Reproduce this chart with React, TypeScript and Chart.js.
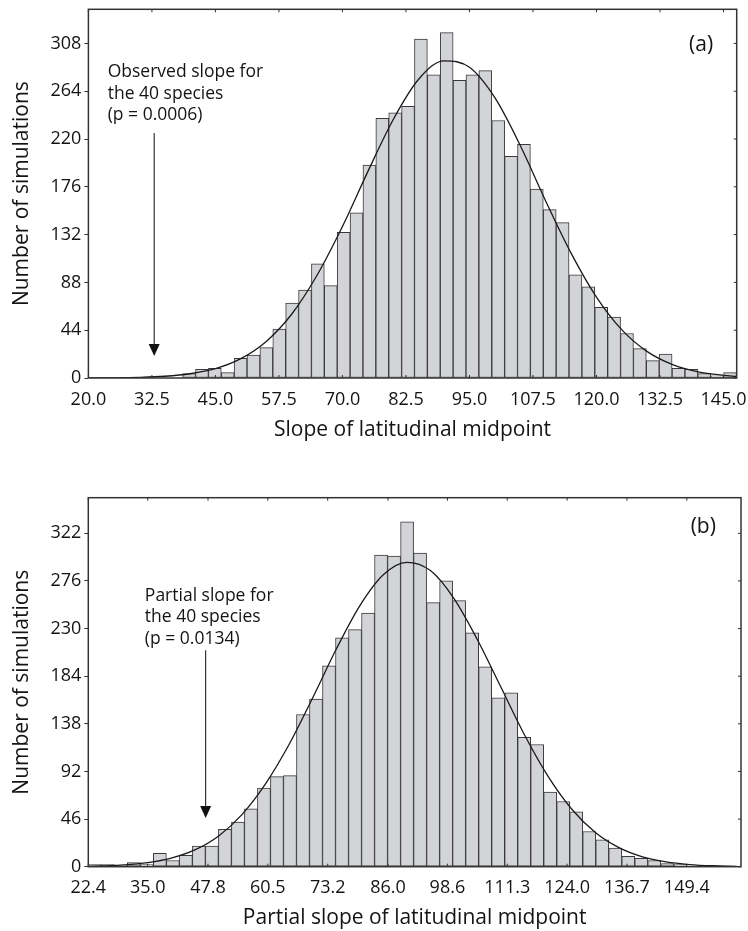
import React, { useEffect, useRef } from "react";
import { Chart, registerables } from "chart.js";

Chart.register(...registerables);

// ---------- Panel (a) data ----------
const binStartA = 38.55;
const binWidthA = 2.535;
const countsA = [4, 8, 9, 5, 18, 21, 28, 45, 69, 81, 105, 85, 134, 152, 196, 239, 244, 250, 312, 279, 318, 274, 279, 283, 237, 204, 215, 174, 155, 143, 95, 84, 65, 56, 41, 27, 16, 22, 9, 8, 4, 2, 5];
const curveXA = [20, 25, 30, 35, 40, 45, 50, 55, 60, 65, 70, 75, 80, 85, 90, 95, 100, 105, 110, 115, 120, 125, 130, 135, 140, 145, 147.6];
const curveYA = [0.1, 0.2, 0.6, 1.6, 3.9, 8.6, 17.8, 33.7, 58.7, 94.6, 139.5, 190, 238, 275, 292, 286, 258, 214, 163, 115, 74.5, 44.3, 24.3, 12.3, 5.7, 2.5, 1.5];
const xTicksA = [20.0, 32.5, 45.0, 57.5, 70.0, 82.5, 95.0, 107.5, 120.0, 132.5, 145.0];
const yTicksA = [0, 44, 88, 132, 176, 220, 264, 308];
const noteA = ["Observed slope for", "the 40 species", "(p = 0.0006)"];
const observedA = 32.95;

// ---------- Panel (b) data ----------
const binStartB = 22.4;
const binWidthB = 2.761;
const countsB = [2, 2, 1, 4, 2, 13, 6, 11, 20, 20, 36, 43, 56, 76, 87, 88, 147, 162, 194, 221, 229, 245, 301, 300, 333, 303, 255, 276, 257, 226, 193, 163, 168, 125, 118, 72, 63, 53, 34, 26, 18, 10, 8, 6, 3, 2];
const curveXB = [22.4, 25, 30, 35, 40, 45, 50, 55, 60, 65, 70, 75, 80, 85, 90, 95, 100, 105, 110, 115, 120, 125, 130, 135, 140, 145, 150, 155, 160];
const curveYB = [0.4, 0.7, 1.7, 3.9, 8.3, 16.2, 29.5, 50.3, 80, 118, 163, 210, 252, 282, 294, 286, 259, 219, 173, 127, 87, 55.5, 33, 18.4, 9.5, 4.6, 2.1, 0.9, 0.34];
const xTicksB = [22.4, 35.0, 47.8, 60.5, 73.2, 86.0, 98.6, 111.3, 124.0, 136.7, 149.4];
const yTicksB = [0, 46, 92, 138, 184, 230, 276, 322];
const noteB = ["Partial slope for", "the 40 species", "(p = 0.0134)"];
const observedB = 47.3;

const FONT = "'Open Sans', 'Noto Sans', sans-serif";
const INK = "#141414";
const FRAME = "#333333";

const framePlugin = {
  id: "frame",
  afterDatasetsDraw(chart: any, _args: any, opts: any) {
    const { ctx, chartArea: a, scales } = chart;
    const xs = scales.x;
    const ys = scales.y;
    ctx.save();
    ctx.strokeStyle = FRAME;
    ctx.lineWidth = 1.5;
    ctx.strokeRect(a.left, a.top, a.right - a.left, a.bottom - a.top);
    ctx.lineWidth = 1;
    ctx.beginPath();
    xs.ticks.forEach((t: any) => {
      const px = xs.getPixelForValue(t.value);
      ctx.moveTo(px, a.top);
      ctx.lineTo(px, a.top + 3);
      ctx.moveTo(px, a.bottom);
      ctx.lineTo(px, a.bottom - 3);
    });
    ys.ticks.forEach((t: any) => {
      const py = ys.getPixelForValue(t.value);
      ctx.moveTo(a.right, py);
      ctx.lineTo(a.right - 3, py);
    });
    ctx.stroke();

    // annotation text
    ctx.fillStyle = INK;
    ctx.font = `17.5px ${FONT}`;
    ctx.textAlign = "left";
    ctx.textBaseline = "alphabetic";
    const tx = xs.getPixelForValue(opts.textX);
    const ty = ys.getPixelForValue(opts.textY);
    opts.lines.forEach((l: string, i: number) => ctx.fillText(l, tx, ty + i * 21.7));

    // panel letter
    ctx.font = `21px ${FONT}`;
    ctx.textAlign = "center";
    ctx.fillText(opts.letter, xs.getPixelForValue(opts.letterX), ys.getPixelForValue(opts.letterY));

    // arrow
    const ax = xs.getPixelForValue(opts.arrowX);
    const ay0 = ys.getPixelForValue(opts.arrowFrom);
    const ay1 = ys.getPixelForValue(opts.arrowTo);
    ctx.strokeStyle = "#222";
    ctx.lineWidth = 1.1;
    ctx.beginPath();
    ctx.moveTo(ax, ay0);
    ctx.lineTo(ax, ay1 - 10);
    ctx.stroke();
    ctx.fillStyle = "#111";
    ctx.beginPath();
    ctx.moveTo(ax - 5.5, ay1 - 12);
    ctx.lineTo(ax + 5.5, ay1 - 12);
    ctx.lineTo(ax, ay1);
    ctx.closePath();
    ctx.fill();
    ctx.restore();
  },
};

type Panel = {
  binStart: number;
  binWidth: number;
  counts: number[];
  curveX: number[];
  curveY: number[];
  xTicks: number[];
  yTicks: number[];
  xMin: number;
  xMax: number;
  yMax: number;
  xTitle: string;
  canvasH: number;
  pad: { top: number; right: number };
  yAxisW: number;
  xAxisH: number;
  xTickPad: number;
  xTitlePad: number;
  note: any;
};

function buildConfig(p: Panel): any {
  const bars = p.counts.map((c, i) => ({ x: p.binStart + p.binWidth * (i + 0.5), y: c }));
  const curve = p.curveX.map((x, i) => ({ x, y: p.curveY[i] }));
  return {
    type: "bar",
    data: {
      datasets: [
        {
          type: "line",
          data: curve,
          borderColor: "#1a1a1a",
          borderWidth: 1.3,
          pointRadius: 0,
          fill: false,
          cubicInterpolationMode: "monotone",
          order: 0,
        },
        {
          type: "bar",
          data: bars,
          backgroundColor: "#d3d4d7",
          borderColor: "#3a3a3a",
          borderWidth: 1,
          borderSkipped: false,
          barPercentage: 1,
          categoryPercentage: 1,
          order: 1,
        },
      ],
    },
    options: {
      animation: false,
      responsive: false,
      devicePixelRatio: 1,
      layout: { padding: { top: p.pad.top, right: p.pad.right, left: 0, bottom: 0 } },
      plugins: {
        legend: { display: false },
        tooltip: { enabled: false },
        frame: p.note,
      },
      scales: {
        x: {
          type: "linear",
          min: p.xMin,
          max: p.xMax,
          offset: false,
          grid: { display: false, drawTicks: false, offset: false },
          border: { display: false },
          afterBuildTicks: (s: any) => {
            s.ticks = p.xTicks.map((v) => ({ value: v }));
          },
          afterFit: (s: any) => {
            s.height = p.xAxisH;
            s.paddingLeft = 0;
            s.paddingRight = 0;
          },
          ticks: {
            autoSkip: false,
            maxRotation: 0,
            padding: p.xTickPad,
            color: INK,
            font: { family: FONT, size: 18 },
            callback: (v: any) => Number(v).toFixed(1),
          },
          title: {
            display: true,
            text: p.xTitle,
            color: INK,
            font: { family: FONT, size: 21 },
            padding: { top: 0, bottom: p.xTitlePad },
          },
        },
        y: {
          type: "linear",
          min: 0,
          max: p.yMax,
          grid: { drawOnChartArea: false, drawTicks: true, tickLength: 4, color: FRAME },
          border: { display: false },
          afterBuildTicks: (s: any) => {
            s.ticks = p.yTicks.map((v) => ({ value: v }));
          },
          afterFit: (s: any) => {
            s.width = p.yAxisW;
            s.paddingTop = 0;
            s.paddingBottom = 0;
          },
          ticks: {
            padding: 3,
            color: INK,
            font: { family: FONT, size: 18 },
          },
          title: {
            display: true,
            text: "Number of simulations",
            color: INK,
            font: { family: FONT, size: 21 },
            padding: { top: 9.9, bottom: 0 },
          },
        },
      },
    },
    plugins: [framePlugin],
  };
}

const panelA: Panel = {
  binStart: binStartA,
  binWidth: binWidthA,
  counts: countsA,
  curveX: curveXA,
  curveY: curveYA,
  xTicks: xTicksA,
  yTicks: yTicksA,
  xMin: 20,
  xMax: 147.6,
  yMax: 339.4,
  xTitle: "Slope of latitudinal midpoint",
  canvasH: 445,
  pad: { top: 9.3, right: 11.3 },
  yAxisW: 88.4,
  xAxisH: 67,
  xTickPad: 11,
  xTitlePad: 2.4,
  note: {
    lines: noteA,
    textX: 23.8,
    textY: 277,
    letter: "(a)",
    letterX: 140.6,
    letterY: 301,
    arrowX: observedA,
    arrowFrom: 225.5,
    arrowTo: 20.2,
  },
};

const panelB: Panel = {
  binStart: binStartB,
  binWidth: binWidthB,
  counts: countsB,
  curveX: curveXB,
  curveY: curveYB,
  xTicks: xTicksB,
  yTicks: yTicksB,
  xMin: 22.4,
  xMax: 160.9,
  yMax: 356.4,
  xTitle: "Partial slope of latitudinal midpoint",
  canvasH: 486,
  pad: { top: 52.7, right: 7 },
  yAxisW: 88.3,
  xAxisH: 64.3,
  xTickPad: 10.2,
  xTitlePad: 0.8,
  note: {
    lines: noteB,
    textX: 34.4,
    textY: 256.9,
    letter: "(b)",
    letterX: 152.9,
    letterY: 322.3,
    arrowX: observedB,
    arrowFrom: 209,
    arrowTo: 47,
  },
};

function PanelChart({ panel, top }: { panel: Panel; top: number }) {
  const ref = useRef<HTMLCanvasElement | null>(null);
  useEffect(() => {
    if (!ref.current) return;
    const chart = new Chart(ref.current, buildConfig(panel));
    return () => chart.destroy();
  }, [panel]);
  return (
    <canvas
      ref={ref}
      width={748}
      height={panel.canvasH}
      style={{ position: "absolute", left: 0, top, width: 748, height: panel.canvasH }}
    />
  );
}

export default function App() {
  return (
    <div style={{ position: "absolute", left: 0, top: 0, width: 748, height: 931, background: "#fff" }}>
      <PanelChart panel={panelA} top={0} />
      <PanelChart panel={panelB} top={445} />
    </div>
  );
}
